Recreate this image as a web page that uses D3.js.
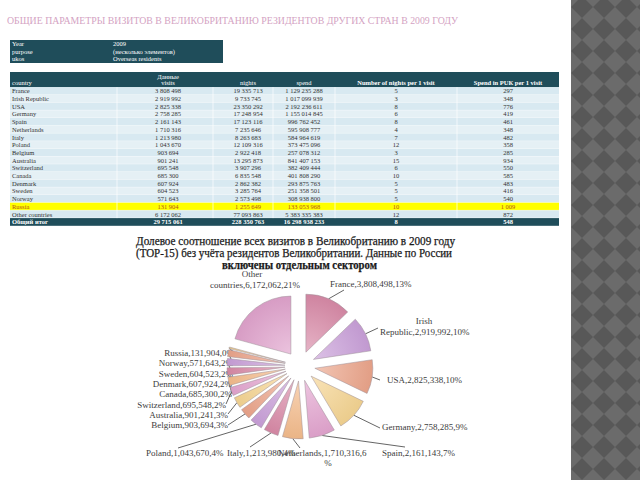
<!DOCTYPE html>
<html><head><meta charset="utf-8">
<script src="https://cdn.jsdelivr.net/npm/d3@7"></script>
<style>body{margin:0;background:#fff}svg{display:block}</style>
</head><body><svg id="c" width="640" height="480"></svg>
<script>
// ---------- data ----------
const pageTitle = "ОБЩИЕ ПАРАМЕТРЫ ВИЗИТОВ В ВЕЛИКОБРИТАНИЮ РЕЗИДЕНТОВ ДРУГИХ СТРАН В 2009 ГОДУ";
const filterLabels = ["Year", "purpose", "ukos"];
const filterValues = ["2009", "(несколько элементов)", "Overseas residents"];
const headerTop = ["", "Данные", "", "", "", ""];
const headerCols = ["country", "visits", "nights", "spend", "Number of nights per 1 visit", "Spend in РUК per 1 visit"];
const countries = ["France","Irish Republic","USA","Germany","Spain","Netherlands","Italy","Poland","Belgium","Australia","Switzerland","Canada","Denmark","Sweden","Norway","Russia","Other countries"];
const visits = [3808498,2919992,2825338,2758285,2161143,1710316,1213980,1043670,903694,901241,695548,685300,607924,604523,571643,131904,6172062];
const nights = [19335713,9733745,23350292,17248954,17123116,7235646,8263683,12109316,2922418,13295873,3907296,6835548,2862382,3285764,2573498,1255649,77093863];
const spend = [1129235288,1017099939,2192236611,1155014845,996762452,595908777,584964619,373475096,257078312,841407153,382409444,401808290,293875763,251358501,308938800,133053968,5383335383];
const nightsPerVisit = [5,3,8,6,8,4,7,12,3,15,6,10,5,5,5,10,12];
const spendPerVisit = [297,348,776,419,461,348,482,358,285,934,550,585,483,416,540,1009,872];
const totalLabel = "Общий итог";
const totalRow = [29715061, 228350763, 16298938233, 8, 548];
const pieTitle = ["Долевое соотношение  всех визитов в Великобританию в 2009 году",
                  "(TOP-15) без учёта резидентов Великобритании. Данные по России",
                  "включены отдельным сектором"];

// ---------- layout / style ----------
const W = 640, H = 480;
const svg = d3.select("#c");
const serif = "'Liberation Serif','Times New Roman',serif";
const teal = "#1f4d5a";

const defs = svg.append("defs");
// decorative right panel
const pat = defs.append("pattern").attr("id","argyle").attr("patternUnits","userSpaceOnUse")
  .attr("width",22).attr("height",22).attr("x",571).attr("y",-4);
pat.append("rect").attr("width",22).attr("height",22).attr("fill","#6b6b6b");
pat.append("path").attr("d","M11,0L22,11L11,22L0,11Z").attr("fill","#585858");
svg.append("rect").attr("x",571).attr("y",0).attr("width",W-571).attr("height",H).attr("fill","url(#argyle)");

// page title
svg.append("text").attr("x",7).attr("y",24).attr("font-family",serif).attr("font-size",11)
  .attr("fill","#d4a3c3").attr("textLength",451).attr("lengthAdjust","spacingAndGlyphs").text(pageTitle);

// ---------- filter table ----------
const fy = d3.scaleBand().domain(d3.range(filterLabels.length)).range([40,63]);
svg.append("rect").attr("x",10).attr("y",40).attr("width",213).attr("height",23).attr("fill",teal);
filterLabels.forEach((t,i)=>{
  const y = fy(i)+fy.bandwidth()/2+2.3;
  svg.append("text").attr("x",12).attr("y",y).attr("font-family",serif).attr("font-size",6.5).attr("fill","#fff").text(t);
  svg.append("text").attr("x",113).attr("y",y).attr("font-family",serif).attr("font-size",6.5).attr("fill","#fff").text(filterValues[i]);
});

// ---------- main table ----------
const colEdges = [10,117,213,273,335,457,559];
const colCenters = [null,168,248,304,396,508];
const nRows = countries.length + 1;
const ry = d3.scaleBand().domain(d3.range(nRows)).range([87.2, 87.2 + nRows*7.7]);
const fmtSp = v => d3.format(",")(v).replace(/,/g," ");

svg.append("rect").attr("x",10).attr("y",72).attr("width",549).attr("height",15.2).attr("fill",teal);
headerTop.forEach((t,i)=>{ if(t) svg.append("text").attr("x",colCenters[i]).attr("y",78.5).attr("text-anchor","middle")
  .attr("font-family",serif).attr("font-size",6.5).attr("fill","#fff").text(t); });
headerCols.forEach((t,i)=>{
  svg.append("text").attr("x", i===0 ? 12 : colCenters[i]).attr("y",85.3).attr("text-anchor", i===0?"start":"middle")
   .attr("font-family",serif).attr("font-size",6.5).attr("font-weight", i>=4?"bold":"normal").attr("fill","#fff").text(t);
});

const rows = countries.map((c,i)=>({cells:[c, fmtSp(visits[i]), fmtSp(nights[i]), fmtSp(spend[i]), fmtSp(nightsPerVisit[i]), fmtSp(spendPerVisit[i])], kind: c==="Russia"?"hl":"body"}));
rows.push({cells:[totalLabel, ...totalRow.map(fmtSp)], kind:"total"});

rows.forEach((r,i)=>{
  const y0 = ry(i), h = ry.bandwidth();
  const fill = r.kind==="hl" ? "#ffff00" : r.kind==="total" ? teal : (i%2===0 ? "#d8e9f1" : "#e5f0f5");
  svg.append("rect").attr("x",10).attr("y",y0).attr("width",549).attr("height",h).attr("fill",fill);
  if (r.kind!=="total") svg.append("line").attr("x1",10).attr("x2",559).attr("y1",y0+h).attr("y2",y0+h).attr("stroke","#fff").attr("stroke-width",0.6);
  const tc = r.kind==="hl" ? "#b4541a" : r.kind==="total" ? "#fff" : "#333";
  r.cells.forEach((t,j)=>{
    svg.append("text").attr("x", j===0?12:colCenters[j]).attr("y", y0+h/2+2.3)
      .attr("text-anchor", j===0?"start":"middle").attr("font-family",serif).attr("font-size",6.5)
      .attr("font-weight", r.kind==="total"?"bold":"normal").attr("fill",tc).text(t);
  });
});
// vertical white separators in body
colEdges.slice(1,-1).forEach(x=>{
  svg.append("line").attr("x1",x).attr("x2",x).attr("y1",ry(0)).attr("y2",ry(nRows-1)).attr("stroke","#fff").attr("stroke-width",0.7);
});

// ---------- pie title ----------
const ptLayout = [{x:136,y:245,len:319,w:"normal"},{x:136,y:257,len:316,w:"normal"},{x:222,y:269,len:155,w:"bold"}];
pieTitle.forEach((t,i)=>{
  const L = ptLayout[i];
  svg.append("text").attr("x",L.x).attr("y",L.y).attr("font-family",serif).attr("font-size",11.5)
    .attr("font-weight",L.w).attr("fill","#1a1a1a").attr("stroke","#1a1a1a").attr("stroke-width",0.25)
    .attr("textLength",L.len).attr("lengthAdjust","spacingAndGlyphs").text(t);
});

// ---------- pie ----------
const cx = 300, cy = 366, R = 58, E = 15;
const sliceColors = ["#d88aa7","#c99fd9","#eba58b","#f5d492","#e3a5cf","#f4bc8c","#d98aa7","#c99fd9","#eba58b","#f5d492","#e3a5cf","#f4bc8c","#d98aa7","#c99fd9","#eba58b","#f5d492","#e0a2cc"];
const totalVisits = d3.sum(visits);
const fmtPct = d3.format(".0%");
const arcs = d3.pie().sort(null).value(d=>d)(visits);
const arc = d3.arc().innerRadius(0).outerRadius(R);
const rimArc = d3.arc().innerRadius(R).outerRadius(R);

sliceColors.forEach((c,i)=>{
  const g = defs.append("radialGradient").attr("id","g"+i).attr("gradientUnits","userSpaceOnUse")
    .attr("cx",0).attr("cy",0).attr("r",R);
  g.append("stop").attr("offset","0%").attr("stop-color", d3.interpolateRgb(c,"#ffffff")(0.35));
  g.append("stop").attr("offset","100%").attr("stop-color", d3.interpolateRgb(c,"#000000")(0.04));
});

const offset = a => { const m = (a.startAngle+a.endAngle)/2; return [E*Math.sin(m), -E*Math.cos(m)]; };

// label layout (per slice, same order as countries)
const labelLayout = [
  {x:330,y:287,a:"start",split:null,lx:344,ly:290},          // France
  {x:380,y:335,a:"start",split:"space",lx:378,ly:328,cx1:424}, // Irish
  {x:387,y:383,a:"start",split:null,lx:380,ly:380},          // USA
  {x:382,y:430,a:"start",split:null,lx:380,ly:428},          // Germany
  {x:382,y:456,a:"start",split:null,lx:405,ly:447},          // Spain
  {x:278,y:456,a:"start",split:"pct",lx:300,ly:448,cx2:328}, // Netherlands
  {x:227,y:456,a:"start",split:null,lx:250,ly:447},          // Italy
  {x:146,y:456,a:"start",split:null,lx:178,ly:448},          // Poland
  {x:228,y:428,a:"end",split:null,lx:228,ly:425},            // Belgium
  {x:228,y:418,a:"end",split:null,lx:228,ly:414},            // Australia
  {x:226,y:408,a:"end",split:null,lx:226,ly:404},            // Switzerland
  {x:232,y:397,a:"end",split:null,lx:null},                  // Canada
  {x:232,y:387,a:"end",split:null,lx:null},                  // Denmark
  {x:233,y:377,a:"end",split:null,lx:null},                  // Sweden
  {x:233,y:366,a:"end",split:null,lx:null},                  // Norway
  {x:234,y:356,a:"end",split:null,lx:null},                  // Russia
  {x:255,y:288,a:"middle",split:"space",lx:null,cx1:252}     // Other
];

const labelG = svg.append("g");
const leaderG = svg.append("g");
const sliceG = svg.append("g");

arcs.forEach((a,i)=>{
  const [dx,dy] = offset(a);
  sliceG.append("path").attr("transform",`translate(${cx+dx},${cy+dy})`).attr("d",arc(a))
    .attr("fill",`url(#g${i})`).attr("stroke","#9d8f96").attr("stroke-width",0.5);
  const L = labelLayout[i];
  const name = countries[i];
  const txt = `${name},${d3.format(",")(visits[i])},${fmtPct(visits[i]/totalVisits)}`;
  const mk = (x,y,anchor,t)=>labelG.append("text").attr("x",x).attr("y",y).attr("text-anchor",anchor)
      .attr("font-family",serif).attr("font-size",9).attr("fill","#3d3d3d").text(t);
  if (L.split==="space") {
    const k = txt.indexOf(" ");
    mk(L.cx1, L.y-11, "middle", txt.slice(0,k));
    mk(L.x, L.y, L.a, txt.slice(k+1));
  } else if (L.split==="pct") {
    mk(L.x, L.y, L.a, txt.slice(0,-1));
    mk(L.cx2, L.y+10, "middle", "%");
  } else {
    mk(L.x, L.y, L.a, txt);
  }
  const rim = rimArc.centroid(a);
  const sx = cx+dx+rim[0], sy = cy+dy+rim[1];
  const ex = L.lx==null ? L.x : L.lx, ey = L.lx==null ? L.y-3 : L.ly;
  if (i!==16) leaderG.append("line").attr("x1",sx).attr("y1",sy).attr("x2",ex).attr("y2",ey)
      .attr("stroke","#3d3d3d").attr("stroke-width",0.8);
});
</script>
</body></html>
